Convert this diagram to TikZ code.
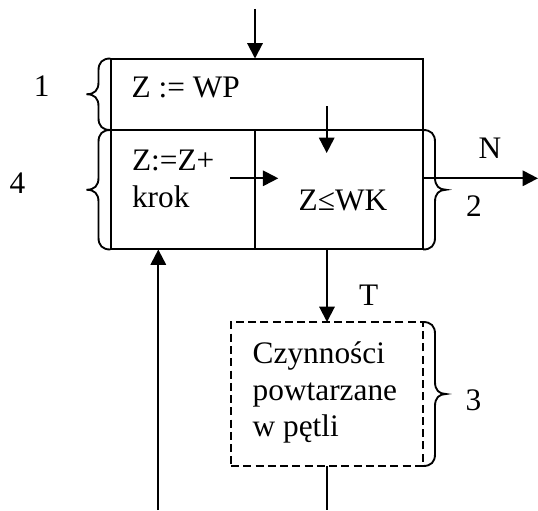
\documentclass[tikz,border=0pt]{standalone}
\usepackage{fontspec}
\setmainfont{Liberation Serif}
\usetikzlibrary{arrows.meta}
\newcommand\mybrL[3]{% box edge x, top y, bottom y
  \draw[brc] (#1,#2) .. controls ({#1-8},#2) and ({#1-12},{#2+4}) .. ({#1-12},{#2+12})
    -- ({#1-12},{(#2+#3)/2-12}) .. controls ({#1-12},{(#2+#3)/2-4}) and ({#1-16},{(#2+#3)/2}) .. ({#1-24},{(#2+#3)/2})
    .. controls ({#1-16},{(#2+#3)/2}) and ({#1-12},{(#2+#3)/2+4}) .. ({#1-12},{(#2+#3)/2+12})
    -- ({#1-12},{#3-12}) .. controls ({#1-12},{#3-4}) and ({#1-8},#3) .. (#1,#3);}
\newcommand\mybrR[3]{%
  \draw[brc] (#1,#2) .. controls ({#1+8},#2) and ({#1+12},{#2+4}) .. ({#1+12},{#2+12})
    -- ({#1+12},{(#2+#3)/2-12}) .. controls ({#1+12},{(#2+#3)/2-4}) and ({#1+16},{(#2+#3)/2}) .. ({#1+23},{(#2+#3)/2})
    .. controls ({#1+16},{(#2+#3)/2}) and ({#1+12},{(#2+#3)/2+4}) .. ({#1+12},{(#2+#3)/2+12})
    -- ({#1+12},{#3-12}) .. controls ({#1+12},{#3-4}) and ({#1+8},#3) .. (#1,#3);}
\begin{document}
\begin{tikzpicture}[x=0.75pt,y=-0.75pt,
  every node/.style={inner sep=0pt,outer sep=0pt,font=\fontsize{23.5}{28}\selectfont},
  boxst/.style={draw,line width=1.5pt,minimum width={#1}},
  brc/.style={line width=1.4pt},
  arr/.style={line width=1.5pt,-{Triangle[length=11.5pt,width=11.5pt]}},
  plain/.style={line width=1.5pt},
  lbl/.style={anchor=base}]
\useasboundingbox (0,0) rectangle (538,510);

% boxes
\node[boxst=234pt,minimum height=53.6pt] (b1) at (267,94.25) {};
\node[boxst=108pt,minimum height=89.6pt] (b2L) at (183,189.75) {};
\node[boxst=126pt,minimum height=89.6pt] (b2R) at (339,189.75) {};
\node[draw,line width=1.4pt,dash pattern=on 6pt off 3.2pt,minimum width=144pt,minimum height=108pt] (dsh) at (327,394) {};

% texts
\node[anchor=base west] (t1) at (131.7,97.7) {Z := WP};
\node[anchor=base west] (t2a) at (132,170) {Z:=Z+};
\node[anchor=base west] (t2b) at (132,207) {krok};
\node[anchor=base] (t3) at (343,210) {Z≤WK};
\node[anchor=base west] (t4a) at (252.7,363.3) {Czynności};
\node[anchor=base west] (t4b) at (252.7,400) {powtarzane};
\node[anchor=base west] (t4c) at (252.7,436.7) {w pętli};

% labels
\node[lbl] (l1) at (41.7,96.7) {1};
\node[lbl] (l4) at (17.5,193.3) {4};
\node[lbl] (lN) at (490,158) {N};
\node[lbl] (l2) at (474,216.7) {2};
\node[lbl] (lT) at (368.7,305) {T};
\node[lbl] (l3) at (473.5,410) {3};

% braces
\mybrL{110.5}{58.5}{130}
\mybrL{110.5}{130}{249.5}
\mybrR{423}{130}{249.5}
\mybrR{423}{322}{466}

% connectors
\coordinate (tin) at (255,9);
\draw[arr] (tin) -- (tin |- b1.north);
\coordinate (cin) at (326.7,106);
\coordinate (cout) at (326.7,153);
\draw[arr] (cin) -- (cout);
\coordinate (hin) at (230,178.3);
\coordinate (hout) at (278.3,178.3);
\draw[arr] (hin) -- (hout);
\coordinate (nend) at (538,178.3);
\draw[arr] (b2R.east |- nend) -- (nend);
\draw[arr] (b2R.south -| dsh.north) -- (dsh.north);
\coordinate (bend) at (327,510);
\draw[plain] (dsh.south) -- (bend);
\coordinate (lstart) at (158.3,510);
\draw[arr] (lstart) -- (lstart |- b2L.south);
\end{tikzpicture}
\end{document}
